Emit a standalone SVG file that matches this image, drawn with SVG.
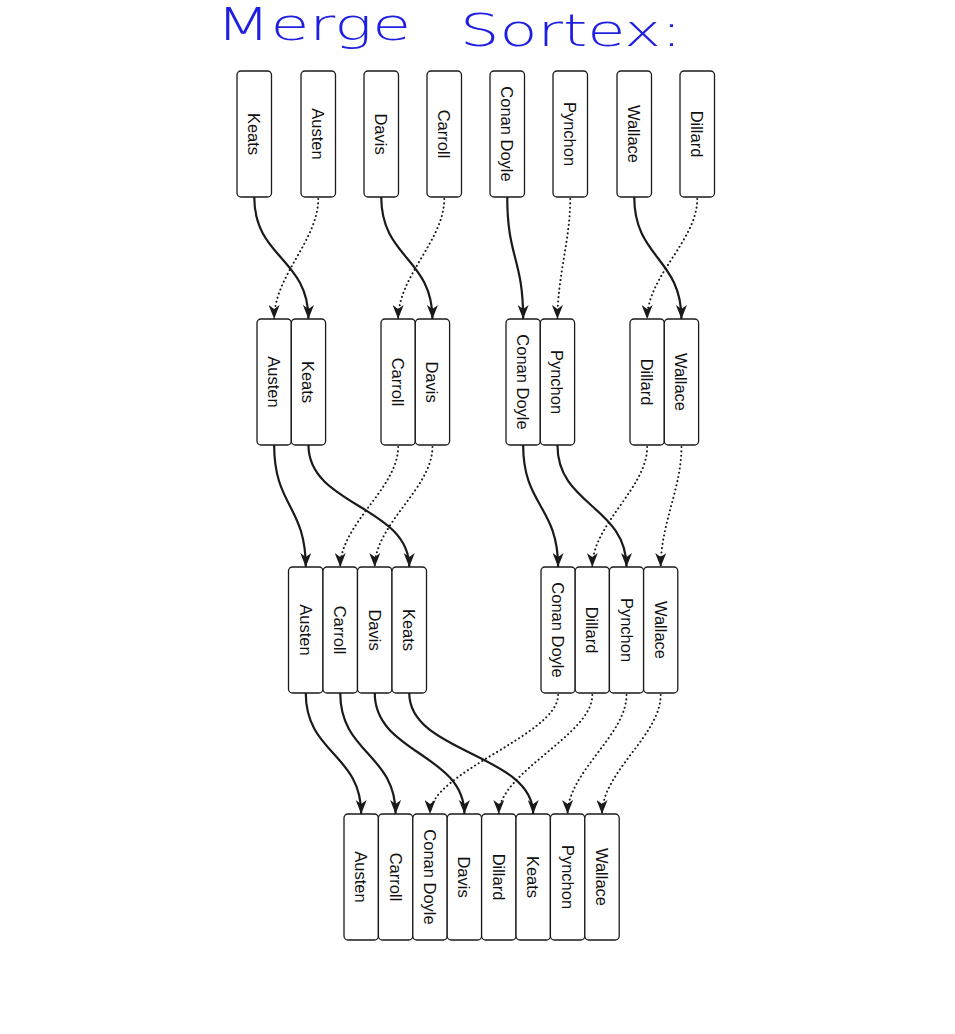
<svg xmlns="http://www.w3.org/2000/svg" width="955" height="1034" viewBox="0 0 955 1034">
<style>
.box rect{fill:#fff;stroke:#1a1a1a;stroke-width:1.3}
.box text{font-family:"Liberation Sans",Arial,sans-serif;font-size:16.5px;fill:#111;text-anchor:middle;dominant-baseline:central}
.s{fill:none;stroke:#1a1a1a;stroke-width:2.2;marker-end:url(#ah)}
.d{fill:none;stroke:#1a1a1a;stroke-width:2;stroke-dasharray:0.1 4.2;stroke-linecap:round;marker-end:url(#ah)}
.title{font-family:"DejaVu Sans","Liberation Sans",sans-serif;font-weight:200;font-size:44px;fill:#1f1fe0}
</style>
<defs>
<marker id="ah" viewBox="0 0 14 11" refX="14" refY="5.5" markerWidth="14" markerHeight="11" markerUnits="userSpaceOnUse" orient="auto">
<path d="M0,0 L14,5.5 L0,11 L4,5.5 Z" fill="#1a1a1a"/>
</marker>
</defs>
<rect width="955" height="1034" fill="#fff"/>
<g id="title">
<text class="title" x="216" y="40" textLength="195" lengthAdjust="spacingAndGlyphs">Merge</text>
<text class="title" x="460" y="46" textLength="222" lengthAdjust="spacingAndGlyphs">Sortex:</text>
</g>
<g id="connectors">
<path class="s" d="M254.25,197 C254.25,258 308.45,258 308.45,319"/>
<path class="d" d="M318.25,199 C318.25,240 274.15,276 274.15,319"/>
<path class="s" d="M381.25,197 C381.25,258 432.45,258 432.45,319"/>
<path class="d" d="M444.25,199 C444.25,240 398.15,276 398.15,319"/>
<path class="s" d="M507.25,197 C507.25,258 523.15,258 523.15,319"/>
<path class="d" d="M570.25,199 C570.25,240 557.45,276 557.45,319"/>
<path class="s" d="M634.25,197 C634.25,258 681.45,258 681.45,319"/>
<path class="d" d="M697.25,199 C697.25,240 647.15,276 647.15,319"/>
<path class="s" d="M274.15,445 C274.15,506 305.75,506 305.75,567"/>
<path class="s" d="M308.45,445 C308.45,506 409.25,506 409.25,567"/>
<path class="d" d="M398.15,447 C398.15,488 340.25,524 340.25,567"/>
<path class="d" d="M432.45,447 C432.45,488 374.75,524 374.75,567"/>
<path class="s" d="M523.15,445 C523.15,506 558.1,506 558.1,567"/>
<path class="s" d="M557.45,445 C557.45,506 626.5,506 626.5,567"/>
<path class="d" d="M647.15,447 C647.15,488 592.3,524 592.3,567"/>
<path class="d" d="M681.45,447 C681.45,488 660.7,524 660.7,567"/>
<path class="s" d="M305.75,693 C305.75,753.5 361.2,753.5 361.2,814"/>
<path class="s" d="M340.25,693 C340.25,753.5 395.6,753.5 395.6,814"/>
<path class="s" d="M374.75,693 C374.75,753.5 464.4,753.5 464.4,814"/>
<path class="s" d="M409.25,693 C409.25,753.5 533.2,753.5 533.2,814"/>
<path class="d" d="M558.1,695 C558.1,735 430,772 430,814"/>
<path class="d" d="M592.3,695 C592.3,735 498.8,772 498.8,814"/>
<path class="d" d="M626.5,695 C626.5,735 567.6,772 567.6,814"/>
<path class="d" d="M660.7,695 C660.7,735 602,772 602,814"/>
</g>
<g id="r1-keats" class="box"><rect x="237" y="71" width="34.5" height="126" rx="4"/><text transform="translate(254.25,134) rotate(90)">Keats</text></g>
<g id="r1-austen" class="box"><rect x="301" y="71" width="34.5" height="126" rx="4"/><text transform="translate(318.25,134) rotate(90)">Austen</text></g>
<g id="r1-davis" class="box"><rect x="364" y="71" width="34.5" height="126" rx="4"/><text transform="translate(381.25,134) rotate(90)">Davis</text></g>
<g id="r1-carroll" class="box"><rect x="427" y="71" width="34.5" height="126" rx="4"/><text transform="translate(444.25,134) rotate(90)">Carroll</text></g>
<g id="r1-conandoyle" class="box"><rect x="490" y="71" width="34.5" height="126" rx="4"/><text transform="translate(507.25,134) rotate(90)">Conan Doyle</text></g>
<g id="r1-pynchon" class="box"><rect x="553" y="71" width="34.5" height="126" rx="4"/><text transform="translate(570.25,134) rotate(90)">Pynchon</text></g>
<g id="r1-wallace" class="box"><rect x="617" y="71" width="34.5" height="126" rx="4"/><text transform="translate(634.25,134) rotate(90)">Wallace</text></g>
<g id="r1-dillard" class="box"><rect x="680" y="71" width="34.5" height="126" rx="4"/><text transform="translate(697.25,134) rotate(90)">Dillard</text></g>
<g id="r2-austen" class="box"><rect x="257" y="319" width="34.3" height="126" rx="4"/><text transform="translate(274.15,382) rotate(90)">Austen</text></g>
<g id="r2-keats" class="box"><rect x="291.3" y="319" width="34.3" height="126" rx="4"/><text transform="translate(308.45,382) rotate(90)">Keats</text></g>
<g id="r2-carroll" class="box"><rect x="381" y="319" width="34.3" height="126" rx="4"/><text transform="translate(398.15,382) rotate(90)">Carroll</text></g>
<g id="r2-davis" class="box"><rect x="415.3" y="319" width="34.3" height="126" rx="4"/><text transform="translate(432.45,382) rotate(90)">Davis</text></g>
<g id="r2-conandoyle" class="box"><rect x="506" y="319" width="34.3" height="126" rx="4"/><text transform="translate(523.15,382) rotate(90)">Conan Doyle</text></g>
<g id="r2-pynchon" class="box"><rect x="540.3" y="319" width="34.3" height="126" rx="4"/><text transform="translate(557.45,382) rotate(90)">Pynchon</text></g>
<g id="r2-dillard" class="box"><rect x="630" y="319" width="34.3" height="126" rx="4"/><text transform="translate(647.15,382) rotate(90)">Dillard</text></g>
<g id="r2-wallace" class="box"><rect x="664.3" y="319" width="34.3" height="126" rx="4"/><text transform="translate(681.45,382) rotate(90)">Wallace</text></g>
<g id="r3-austen" class="box"><rect x="288.5" y="567" width="34.5" height="126" rx="4"/><text transform="translate(305.75,630) rotate(90)">Austen</text></g>
<g id="r3-carroll" class="box"><rect x="323" y="567" width="34.5" height="126" rx="4"/><text transform="translate(340.25,630) rotate(90)">Carroll</text></g>
<g id="r3-davis" class="box"><rect x="357.5" y="567" width="34.5" height="126" rx="4"/><text transform="translate(374.75,630) rotate(90)">Davis</text></g>
<g id="r3-keats" class="box"><rect x="392" y="567" width="34.5" height="126" rx="4"/><text transform="translate(409.25,630) rotate(90)">Keats</text></g>
<g id="r3-conandoyle" class="box"><rect x="541" y="567" width="34.2" height="126" rx="4"/><text transform="translate(558.1,630) rotate(90)">Conan Doyle</text></g>
<g id="r3-dillard" class="box"><rect x="575.2" y="567" width="34.2" height="126" rx="4"/><text transform="translate(592.3,630) rotate(90)">Dillard</text></g>
<g id="r3-pynchon" class="box"><rect x="609.4" y="567" width="34.2" height="126" rx="4"/><text transform="translate(626.5,630) rotate(90)">Pynchon</text></g>
<g id="r3-wallace" class="box"><rect x="643.6" y="567" width="34.2" height="126" rx="4"/><text transform="translate(660.7,630) rotate(90)">Wallace</text></g>
<g id="r4-austen" class="box"><rect x="344" y="814" width="34.4" height="126" rx="4"/><text transform="translate(361.2,877) rotate(90)">Austen</text></g>
<g id="r4-carroll" class="box"><rect x="378.4" y="814" width="34.4" height="126" rx="4"/><text transform="translate(395.6,877) rotate(90)">Carroll</text></g>
<g id="r4-conandoyle" class="box"><rect x="412.8" y="814" width="34.4" height="126" rx="4"/><text transform="translate(430,877) rotate(90)">Conan Doyle</text></g>
<g id="r4-davis" class="box"><rect x="447.2" y="814" width="34.4" height="126" rx="4"/><text transform="translate(464.4,877) rotate(90)">Davis</text></g>
<g id="r4-dillard" class="box"><rect x="481.6" y="814" width="34.4" height="126" rx="4"/><text transform="translate(498.8,877) rotate(90)">Dillard</text></g>
<g id="r4-keats" class="box"><rect x="516" y="814" width="34.4" height="126" rx="4"/><text transform="translate(533.2,877) rotate(90)">Keats</text></g>
<g id="r4-pynchon" class="box"><rect x="550.4" y="814" width="34.4" height="126" rx="4"/><text transform="translate(567.6,877) rotate(90)">Pynchon</text></g>
<g id="r4-wallace" class="box"><rect x="584.8" y="814" width="34.4" height="126" rx="4"/><text transform="translate(602,877) rotate(90)">Wallace</text></g>
</svg>
